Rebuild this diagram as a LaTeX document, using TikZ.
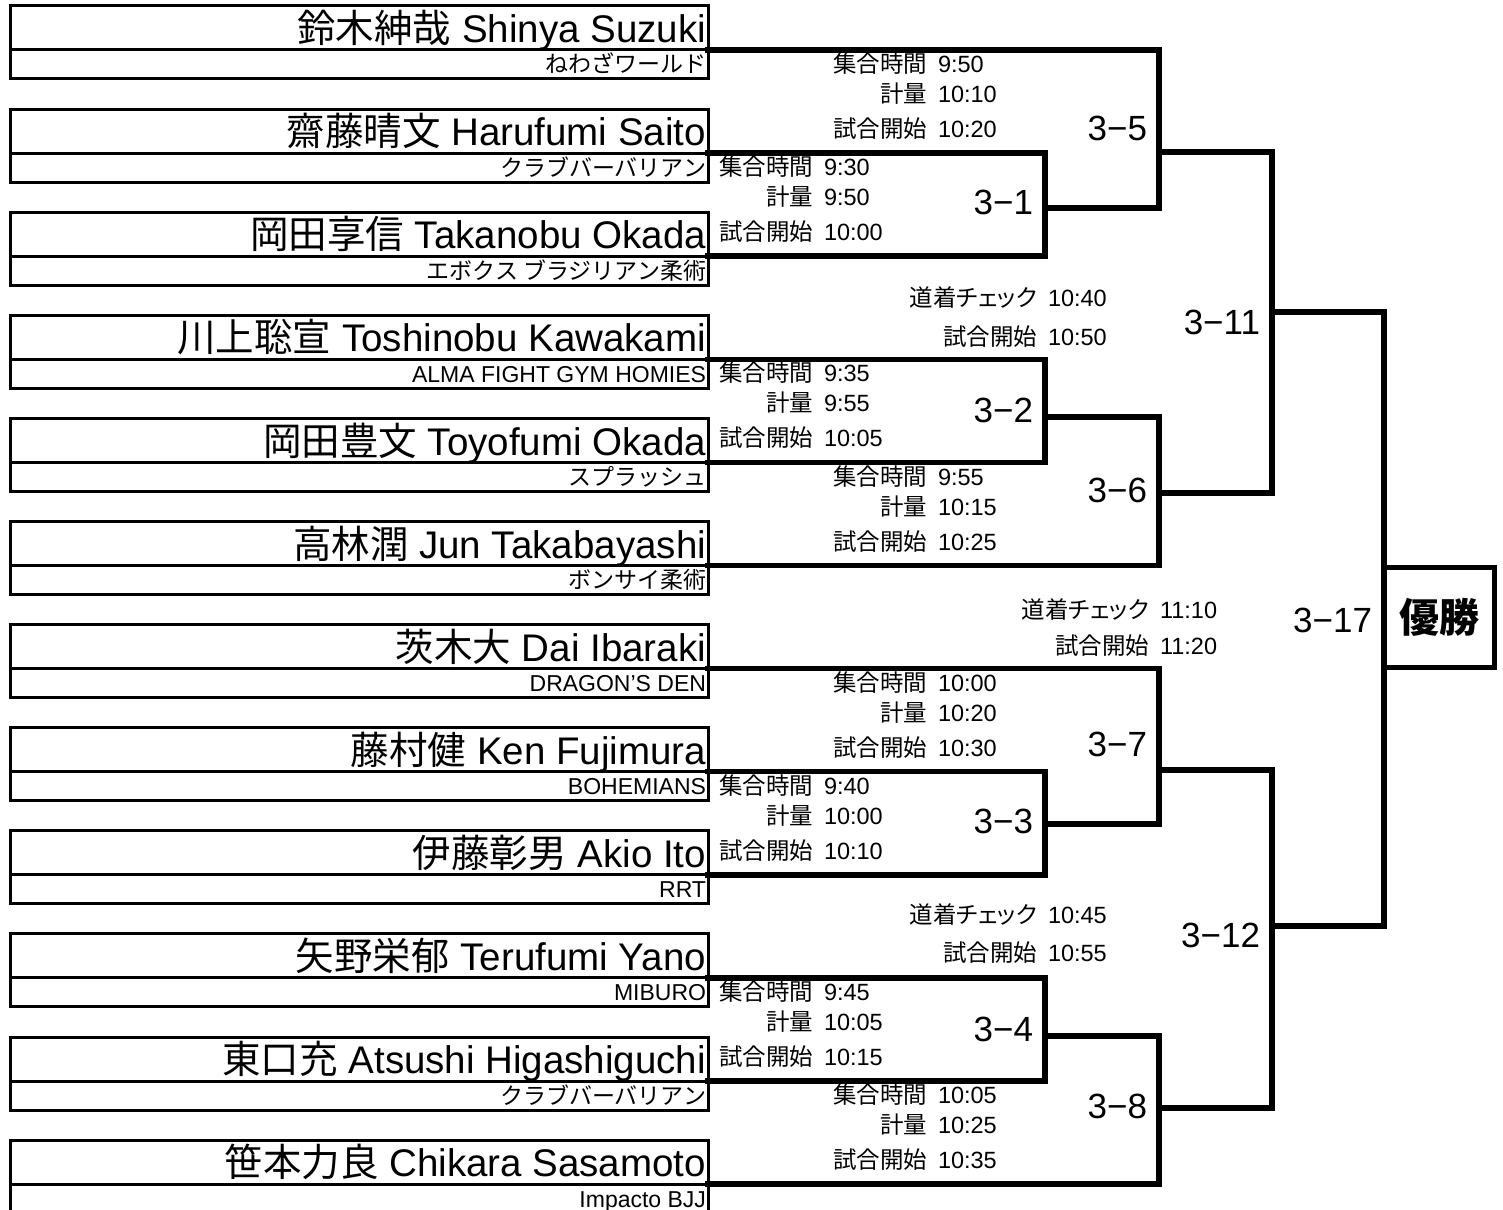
\documentclass[tikz,border=0pt]{standalone}
\usepackage{fontspec}
\setmainfont{Liberation Sans}
\newfontfamily\jp{Noto Sans CJK JP}
\newfontfamily\jpp{Noto Sans CJK JP}[RawFeature=+palt]
\tikzset{
  box/.style={draw, line width=3pt, minimum width=698pt, inner sep=0pt, outer sep=0pt},
  namebox/.style={box, minimum height=44pt},
  affbox/.style={box, minimum height=29pt},
  br/.style={line width=5.5pt, line join=miter, line cap=rect},
  nm/.style={inner sep=0pt, outer sep=0pt, font=\fontsize{38.5}{40}\selectfont},
  af/.style={inner sep=0pt, outer sep=0pt, font=\fontsize{23}{25}\selectfont},
  tl/.style={inner sep=0pt, outer sep=0pt, font=\fontsize{23.5}{25}\selectfont},
  ml/.style={inner sep=0pt, outer sep=0pt, font=\fontsize{35}{37}\selectfont, anchor=base east},
}
\newcommand\entry[5]{%
  \node[namebox] (nb#1) at (359,#2-22) {};
  \node[affbox] (ab#1) at (359,#2+14.5) {};
  \node[nm, anchor=base east] (nt#1) at (706,#2-7.4) {{\jp #3} #4};
  \node[af, anchor=base east] (at#1) at (706,#2+23) {#5};
}
\newcommand\trow[5]{%
  \node[tl, anchor=base east] (#1a) at (#2,#3+8.6) {\jp #4};
  \node[tl, anchor=base west] (#1b) at (#2+11,#3+8.6) {#5};
}
\newcommand\tblock[6]{%
  \trow{#1x}{#2}{#3+14}{集合時間}{#4}
  \trow{#1y}{#2}{#3+44}{計量}{#5}
  \trow{#1z}{#2}{#3+79}{試合開始}{#6}
}
\begin{document}
\begin{tikzpicture}[x=1pt,y=-1pt]
\useasboundingbox (0,0) rectangle (1503,1209);
\clip (0,0) rectangle (1503,1209);
\fill[white] (0,0) rectangle (1503,1209);

% entries
\entry{0}{50}{鈴木紳哉}{Shinya Suzuki}{{\jp ねわざワールド}}
\entry{1}{153.1}{齋藤晴文}{Harufumi Saito}{{\jp クラブバーバリアン}}
\entry{2}{256.2}{岡田享信}{Takanobu Okada}{{\jp エボクス ブラジリアン柔術}}
\entry{3}{359.3}{川上聡宣}{Toshinobu Kawakami}{ALMA FIGHT GYM HOMIES}
\entry{4}{462.4}{岡田豊文}{Toyofumi Okada}{{\jp スプラッシュ}}
\entry{5}{565.5}{高林潤}{Jun Takabayashi}{{\jp ボンサイ柔術}}
\entry{6}{668.6}{茨木大}{Dai Ibaraki}{DRAGON'S DEN}
\entry{7}{771.7}{藤村健}{Ken Fujimura}{BOHEMIANS}
\entry{8}{874.8}{伊藤彰男}{Akio Ito}{RRT}
\entry{9}{977.9}{矢野栄郁}{Terufumi Yano}{MIBURO}
\entry{10}{1081}{東口充}{Atsushi Higashiguchi}{{\jp クラブバーバリアン}}
\entry{11}{1184.1}{笹本力良}{Chikara Sasamoto}{Impacto BJJ}

% junction coordinates
\coordinate (o1) at (1045,208);
\coordinate (o2) at (1045,417);
\coordinate (o3) at (1045,824);
\coordinate (o4) at (1045,1036);
\coordinate (o5) at (1159,152);
\coordinate (o6) at (1159,493);
\coordinate (o7) at (1159,770);
\coordinate (o8) at (1159,1108);
\coordinate (o11) at (1272,312);
\coordinate (o12) at (1272,926);
\coordinate (r4) at (1384,0);

% winner box
\node[draw, line width=5pt, minimum width=110pt, minimum height=100pt, inner sep=0pt,
      font=\fontsize{40}{42}\selectfont\jp\bfseries, text height=35pt, text depth=5pt]
      (win) at (1439,617) {優勝};

% brackets
\draw[br] (nb1.south east) -| (nb2.south east -| o1) -- (nb2.south east);
\draw[br] (nb0.south east) -| (o1 -| o5) -- (o1);
\draw[br] (nb3.south east) -| (nb4.south east -| o2) -- (nb4.south east);
\draw[br] (o2) -| (nb5.south east -| o6) -- (nb5.south east);
\draw[br] (o5) -| (o6 -| o11) -- (o6);
\draw[br] (nb7.south east) -| (nb8.south east -| o3) -- (nb8.south east);
\draw[br] (nb6.south east) -| (o3 -| o7) -- (o3);
\draw[br] (nb9.south east) -| (nb10.south east -| o4) -- (nb10.south east);
\draw[br] (o4) -| (nb11.south east -| o8) -- (nb11.south east);
\draw[br] (o7) -| (o8 -| o12) -- (o8);
\draw[br] (o11) -| (o12 -| r4) -- (o12);

% match labels
\node[ml] (m1) at (1033,214.5) {3−1};
\node[ml] (m2) at (1033,422.5) {3−2};
\node[ml] (m3) at (1033,833.5) {3−3};
\node[ml] (m4) at (1033,1041.5) {3−4};
\node[ml] (m5) at (1147,140.5) {3−5};
\node[ml] (m6) at (1147,502.5) {3−6};
\node[ml] (m7) at (1147,756.5) {3−7};
\node[ml] (m8) at (1147,1118.5) {3−8};
\node[ml] (m11) at (1260,334.5) {3−11};
\node[ml] (m12) at (1260,947.5) {3−12};
\node[ml] (m17) at (1372,632.5) {3−17};

% time blocks
\tblock{ta}{813}{153.1}{9:30}{9:50}{10:00}
\tblock{tb}{927}{50}{9:50}{10:10}{10:20}
\tblock{tc}{813}{359.3}{9:35}{9:55}{10:05}
\tblock{td}{927}{462.4}{9:55}{10:15}{10:25}
\tblock{te}{927}{668.6}{10:00}{10:20}{10:30}
\tblock{tf}{813}{771.7}{9:40}{10:00}{10:10}
\tblock{tg}{813}{977.9}{9:45}{10:05}{10:15}
\tblock{th}{927}{1081}{10:05}{10:25}{10:35}

\trow{tia}{1037}{298}{\jpp 道着チェック}{10:40}
\trow{tib}{1037}{337}{試合開始}{10:50}
\trow{tja}{1037}{915}{\jpp 道着チェック}{10:45}
\trow{tjb}{1037}{953}{試合開始}{10:55}
\trow{tka}{1149}{610}{\jpp 道着チェック}{11:10}
\trow{tkb}{1149}{646}{試合開始}{11:20}
\end{tikzpicture}
\end{document}
